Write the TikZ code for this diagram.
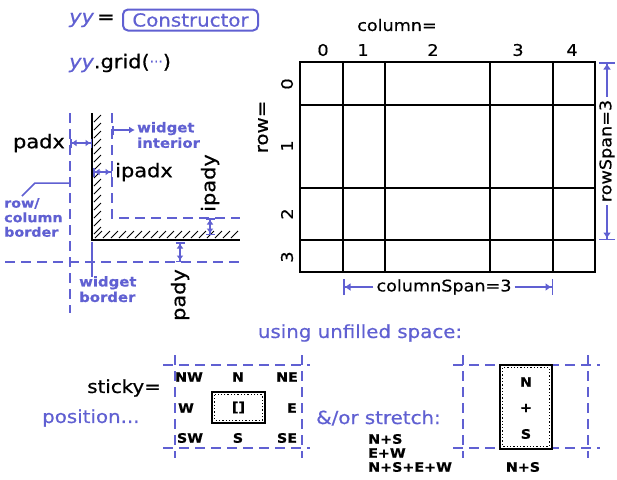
\documentclass[tikz,border=0pt]{standalone}
\usepackage{fontspec}
\setmainfont{DejaVu Sans}
\newfontfamily\gen[FakeStretch=1.1,FakeBold=0.6]{DejaVu Sans}
\usetikzlibrary{arrows.meta}
\definecolor{hb}{RGB}{96,96,210}
\begin{document}
\begin{tikzpicture}[x=1pt,y=-1pt,
  txt/.style={inner sep=0pt, font=\gen\fontsize{18pt}{20pt}\selectfont},
  big/.style={inner sep=0pt, font=\gen\fontsize{19pt}{22pt}\selectfont},
  mid/.style={inner sep=0pt, font=\gen\fontsize{16pt}{18pt}\selectfont},
  sml/.style={inner sep=0pt, font=\gen\bfseries\fontsize{13pt}{14pt}\selectfont},
  bsml/.style={inner sep=0pt, text=hb, align=left, font=\gen\bfseries\fontsize{13.5pt}{15.5pt}\selectfont},
  gl/.style={line width=2.2pt},
  dsh/.style={hb, line width=2pt, dash pattern=on 10pt off 6pt},
  ptr/.style={hb, line width=1.5pt},
  dimarr/.style={hb, line width=1.5pt, {Bar[width=9pt]Latex[length=5pt,width=7pt]}-{Latex[length=5pt,width=7pt]Bar[width=9pt]}},
  spanarr/.style={hb, line width=1.5pt, -{Latex[length=6pt,width=8pt]Bar[width=16pt]}},
  hatch/.style={line width=1pt},
  wbox/.style={draw, fill=white, line width=2.5pt},
]
\useasboundingbox (0,0) rectangle (617,479);
\fill[white] (0,0) rectangle (617,479);

% ---------- top code lines ----------
\node[big, text=hb, font=\gen\itshape\fontsize{19pt}{22pt}\selectfont, anchor=west] (yy1) at (69,20) {yy};
\node[big, anchor=west] (eq) at (97,19) {=};
\node[big, text=hb, draw=hb, line width=2pt, rounded corners=5pt, minimum width=135pt, minimum height=21pt, font=\gen\fontsize{18pt}{20pt}\selectfont] (ctor) at (190.5,20) {Constructor};
\node[big, anchor=west] (gridcall) at (69,63) {{\color{hb}\itshape yy}.grid({\color{hb}\fontsize{12pt}{12pt}\selectfont\raisebox{3pt}{⋯}})};

% ---------- grid ----------
\draw[gl] (300,62) rectangle (595,272);
\foreach \x in {343,385,490,553} \draw[gl] (\x,62) -- (\x,272);
\foreach \y in {105,188,240} \draw[gl] (300,\y) -- (595,\y);
\node[mid] (colhdr) at (397,25) {column=};
\node[mid] (c0) at (323,50) {0};
\node[mid] (c1) at (363,50) {1};
\node[mid] (c2) at (433,50) {2};
\node[mid] (c3) at (518,50) {3};
\node[mid] (c4) at (572,50) {4};
\node[txt, rotate=90] (rowhdr) at (263,127) {row=};
\node[mid, rotate=90] (r0) at (287,84) {0};
\node[mid, rotate=90] (r1) at (287,146) {1};
\node[mid, rotate=90] (r2) at (287,214) {2};
\node[mid, rotate=90] (r3) at (287,257) {3};
% rowSpan
\node[mid, rotate=90, inner sep=3pt] (rs) at (607,151) {rowSpan=3};
\coordinate (rsT) at (607,62);
\coordinate (rsB) at (607,240);
\draw[spanarr] (rs.east) -- (rsT);
\draw[spanarr] (rs.west) -- (rsB);
% columnSpan
\node[mid, inner sep=3pt] (cs) at (444,287) {columnSpan=3};
\coordinate (csL) at (343,287);
\coordinate (csR) at (553,287);
\draw[spanarr] (cs.west) -- (csL);
\draw[spanarr] (cs.east) -- (csR);

% ---------- padding diagram ----------
\foreach \y in {115,123,...,227} \draw[hatch] (94,\y+7) -- (101,\y);
\foreach \x in {95,103,...,233} \draw[hatch] (\x,238) -- (\x+7,231);
\draw[line width=2pt] (92,113) -- (92,240) -- (240,240);
\draw[dsh] (112,113) -- (112,218) -- (240,218);
\draw[dsh] (70,113) -- (70,313);
\draw[dsh] (5,262) -- (240,262);

\node[big, anchor=east] (padx) at (65,143) {padx};
\coordinate (pxL) at (70,143);
\coordinate (pxR) at (92,143);
\draw[dimarr] (pxL) -- (pxR);

\node[big, anchor=west] (ipadx) at (115,172) {ipadx};
\coordinate (ipxL) at (93,172);
\coordinate (ipxR) at (112,172);
\draw[dimarr] (ipxL) -- (ipxR);

\coordinate (wiA) at (112,130);
\coordinate (wiB) at (135,130);
\draw[hb, line width=1.5pt, {Bar[width=9pt]}-{Latex[length=6pt,width=7pt]}] (wiA) -- (wiB);
\node[bsml, anchor=west] (wi) at (137,135) {widget\\interior};

\node[big, rotate=90] (ipady) at (210,183) {ipady};
\coordinate (ipyT) at (210,218);
\coordinate (ipyB) at (210,235);
\draw[dimarr] (ipyT) -- (ipyB);

\node[big, rotate=90] (pady) at (180,295) {pady};
\coordinate (pyT) at (180,242);
\coordinate (pyB) at (180,262);
\draw[dimarr] (pyT) -- (pyB);

\node[bsml, anchor=north west, font=\gen\bfseries\fontsize{13pt}{14.5pt}\selectfont] (rcb) at (4,198) {row/\\column\\border};
\coordinate (rcbA) at (22,196);
\coordinate (rcbB) at (35,183);
\coordinate (rcbC) at (70,183);
\draw[ptr] (rcbA) -- (rcbB) -- (rcbC);

\coordinate (wbA) at (92,242);
\coordinate (wbB) at (92,277);
\draw[ptr] (wbA) -- (wbB);
\node[bsml, anchor=north west] (wb) at (79,276) {widget\\border};

% ---------- sticky ----------
\node[txt, text=hb] (using) at (360,333) {using unfilled space:};
\node[txt, anchor=east] (sticky) at (161,388) {sticky=};
\node[txt, text=hb, anchor=west] (pos) at (42,418) {position...};

\draw[dsh] (163,365) -- (310,365);
\draw[dsh] (163,448) -- (310,448);
\draw[dsh] (175,355) -- (175,458);
\draw[dsh] (302,355) -- (302,458);

\node[sml] (nw) at (189,377) {NW};
\node[sml] (n) at (238,377) {N};
\node[sml] (ne) at (287,377) {NE};
\node[sml] (w) at (186,408) {W};
\node[sml] (e) at (292,408) {E};
\node[sml] (sw) at (190,438) {SW};
\node[sml] (s) at (238,438) {S};
\node[sml] (se) at (287,438) {SE};

\node[wbox, minimum width=53pt, minimum height=31pt] (w1) at (238.5,407.5) {};
\draw[dotted, line width=1.3pt] ([shift={(4,4)}]w1.north west) rectangle ([shift={(-4,-4)}]w1.south east);
\node[sml] (w1t) at (w1.center) {[]};

% ---------- stretch ----------
\node[txt, text=hb, anchor=west] (stretch) at (316,418) {\&/or stretch:};
\node[sml, anchor=west] (ns1) at (368,439) {N+S};
\node[sml, anchor=west] (ew1) at (368,453) {E+W};
\node[sml, anchor=west] (nsew) at (368,467) {N+S+E+W};

\draw[dsh] (453,365) -- (600,365);
\draw[dsh] (453,448) -- (600,448);
\draw[dsh] (463,355) -- (463,458);
\draw[dsh] (588,355) -- (588,458);

\node[wbox, minimum width=52pt, minimum height=84pt] (w3) at (526,407) {};
\draw[dotted, line width=1.3pt] ([shift={(4,4)}]w3.north west) rectangle ([shift={(-4,-4)}]w3.south east);
\node[sml] (w3n) at (526,382) {N};
\node[sml] (w3p) at (526,408) {+};
\node[sml] (w3s) at (526,434) {S};
\node[sml] (ns3) at (523,467) {N+S};
\end{tikzpicture}
\end{document}
